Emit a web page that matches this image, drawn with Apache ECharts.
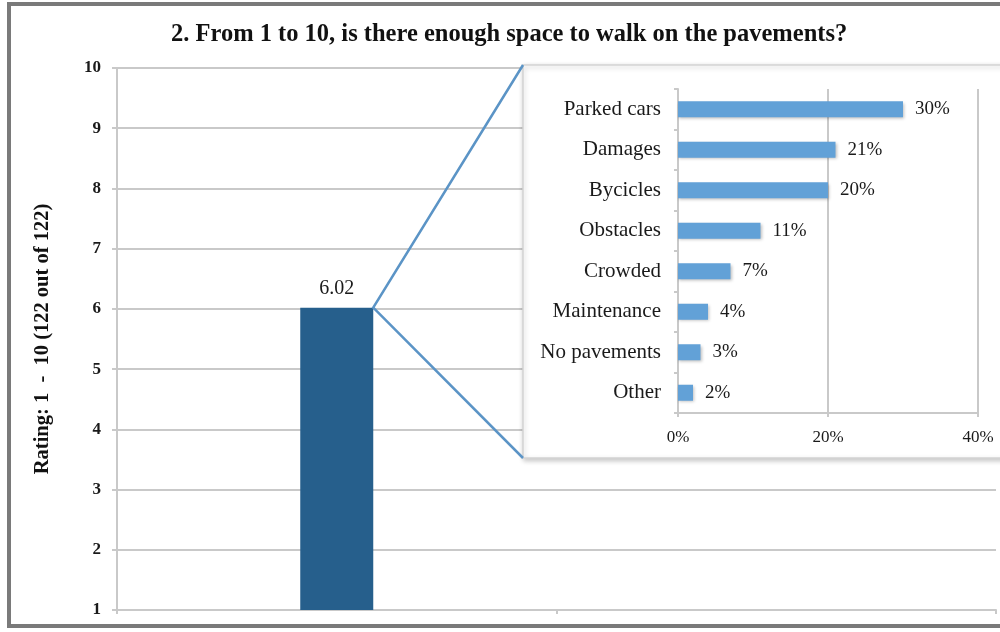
<!DOCTYPE html>
<html>
<head>
<meta charset="utf-8">
<style>
  html, body { margin: 0; padding: 0; background: #fff; }
  #chart { width: 1000px; height: 632px; }
</style>
<script src="https://cdn.jsdelivr.net/npm/echarts@6/dist/echarts.min.js"></script>
</head>
<body>
<div id="chart"></div>
<script>
// Average rating of pavement space (scale 1 to 10)
const ratingCategories = ['Pavement space', ''];
const ratingValues = [6.02, null];
const ratingTicks = { min: 1, max: 10, interval: 1 };

// Reasons given for the lack of space, in percent of answers
const reasonCategories = ['Parked cars', 'Damages', 'Bycicles', 'Obstacles', 'Crowded', 'Maintenance', 'No pavements', 'Other'];
const reasonValues = [30, 21, 20, 11, 7, 4, 3, 2];
const reasonTicks = { min: 0, max: 40, interval: 20 };

const SERIF = '"Liberation Serif", "Times New Roman", serif';
const GRID_GREY = '#c9c9c9';
const TEXT = '#1a1a1a';

// Inset panel holding the breakdown chart
const panel = { x: 523, y: 65, w: 500, h: 393 };

const chart = echarts.init(document.getElementById('chart'), null, { renderer: 'canvas' });

const option = {
  animation: false,
  backgroundColor: '#fff',
  title: {
    text: '2. From 1 to 10, is there enough space to walk on the pavements?',
    left: 166,
    top: 17,
    textStyle: { fontFamily: SERIF, fontWeight: 'bold', fontSize: 24.5, color: '#111' }
  },
  grid: [
    { left: 117, right: 4, top: 68, bottom: 22 },
    { left: 678, right: 22, top: 89, bottom: 219, z: 5 }
  ],
  xAxis: [
    {
      type: 'category',
      gridIndex: 0,
      data: ratingCategories,
      boundaryGap: true,
      axisLine: { show: true, lineStyle: { color: GRID_GREY, width: 2 } },
      axisTick: { show: true, length: 4, lineStyle: { color: GRID_GREY, width: 2 } },
      axisLabel: { show: false },
      splitLine: { show: false }
    },
    {
      type: 'value',
      gridIndex: 1,
      z: 5,
      min: reasonTicks.min,
      max: reasonTicks.max,
      interval: reasonTicks.interval,
      axisLine: { show: true, lineStyle: { color: GRID_GREY, width: 2 } },
      axisTick: { show: true, length: 4, lineStyle: { color: GRID_GREY, width: 2 } },
      axisLabel: {
        formatter: '{value}%', margin: 16,
        fontFamily: SERIF, fontSize: 17, color: TEXT
      },
      splitLine: { show: true, lineStyle: { color: GRID_GREY, width: 2 } }
    }
  ],
  yAxis: [
    {
      type: 'value',
      gridIndex: 0,
      min: ratingTicks.min,
      max: ratingTicks.max,
      interval: ratingTicks.interval,
      name: 'Rating: 1  -  10 (122 out of 122)',
      nameLocation: 'middle',
      nameRotate: 90,
      nameGap: 64,
      nameTextStyle: { fontFamily: SERIF, fontWeight: 'bold', fontSize: 20.5, color: '#111' },
      axisLine: { show: true, lineStyle: { color: GRID_GREY, width: 2 } },
      axisTick: { show: true, length: 5, lineStyle: { color: GRID_GREY, width: 2 } },
      axisLabel: {
        margin: 16, padding: [5, 0, 0, 0],
        fontFamily: SERIF, fontWeight: 'bold', fontSize: 17, color: TEXT
      },
      splitLine: { show: true, lineStyle: { color: GRID_GREY, width: 2 } }
    },
    {
      type: 'category',
      gridIndex: 1,
      z: 5,
      data: reasonCategories,
      inverse: true,
      axisLine: { show: true, lineStyle: { color: GRID_GREY, width: 2 } },
      axisTick: { show: true, length: 4, lineStyle: { color: GRID_GREY, width: 2 } },
      axisLabel: { margin: 17, padding: [4, 0, 0, 0], fontFamily: SERIF, fontSize: 21, color: TEXT },
      splitLine: { show: false }
    }
  ],
  series: [
    {
      type: 'bar',
      xAxisIndex: 0,
      yAxisIndex: 0,
      data: ratingValues,
      barWidth: 73,
      itemStyle: { color: '#265f8c' },
      label: {
        show: true, position: 'top', distance: 9,
        formatter: p => p.value.toFixed(2),
        fontFamily: SERIF, fontSize: 20, color: TEXT
      }
    },
    {
      type: 'bar',
      xAxisIndex: 1,
      yAxisIndex: 1,
      z: 6,
      data: reasonValues,
      barWidth: 16,
      itemStyle: {
        color: '#62a1d7',
        shadowColor: 'rgba(0,0,0,0.25)', shadowBlur: 3, shadowOffsetX: 1, shadowOffsetY: 1.5
      },
      label: {
        show: true, position: 'right', distance: 12,
        formatter: '{c}%',
        fontFamily: SERIF, fontSize: 19, color: TEXT
      }
    }
  ]
};

chart.setOption(option);

// Corner of the rating bar, found through the chart's own scales
const barTop = chart.convertToPixel({ xAxisIndex: 0, yAxisIndex: 0 }, [0, ratingValues[0]]);
const barRight = barTop[0] + 73 / 2;

chart.setOption({
  graphic: [
    {
      // outer frame of the figure
      type: 'rect', z: 100, silent: true,
      shape: { x: 9, y: 4, width: 1020, height: 622 },
      style: { fill: 'none', stroke: '#7a7a7a', lineWidth: 4 }
    },
    {
      // inset panel background
      type: 'rect', z: 1, silent: true,
      shape: { x: panel.x, y: panel.y, width: panel.w, height: panel.h },
      style: {
        fill: '#fff', stroke: '#d4d4d4', lineWidth: 1.5,
        shadowColor: 'rgba(0,0,0,0.22)', shadowBlur: 5, shadowOffsetX: 1, shadowOffsetY: 2
      }
    },
    {
      // callout lines from the bar to the inset
      type: 'polyline', z: 3, silent: true,
      shape: { points: [[panel.x, panel.y], [barRight, barTop[1]], [panel.x, panel.y + panel.h]] },
      style: { fill: 'none', stroke: '#5b94c6', lineWidth: 2.5 }
    }
  ]
});
</script>
</body>
</html>
